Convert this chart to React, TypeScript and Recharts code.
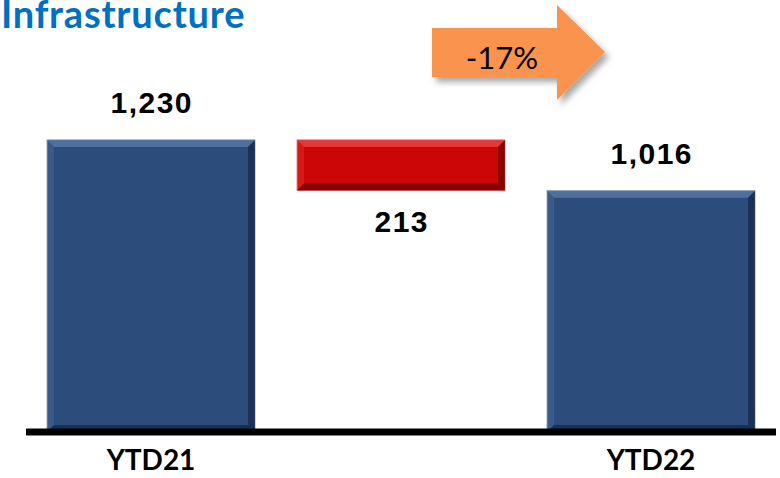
import React from "react";
import { BarChart, Bar, XAxis, YAxis, Cell, LabelList } from "recharts";

const categories = ["YTD21", "", "YTD22"];
const barLow = [0, 1017, 0];
const barHigh = [1230, 1230, 1016];
const barLabels = ["1,230", "213", "1,016"];
const barKinds = ["total", "drop", "total"];
const changeLabel = "-17%";

const data = categories.map((name, i) => ({
  name,
  range: [barLow[i], barHigh[i]],
  label: barLabels[i],
  kind: barKinds[i],
}));

const palette = {
  total: { main: "#2C4C7C", light: "#5676A6", dark: "#16284A", edge: "#A3A9B4" },
  drop: { main: "#CC0606", light: "#EA4040", dark: "#760000", edge: "#E58A8A" },
};

const BevelBar = (props: any) => {
  const { x, y, width, height, index } = props;
  if (height == null || width == null) return null;
  const c = palette[barKinds[index] as "total" | "drop"];
  const b = 7;
  return (
    <g>
      <rect x={x} y={y} width={width} height={height} fill={c.main} stroke={c.edge} strokeWidth={1} />
      <polygon points={`${x},${y} ${x + width},${y} ${x + width - b},${y + b} ${x + b},${y + b}`} fill={c.light} opacity={0.85} />
      <polygon points={`${x},${y} ${x + b},${y + b} ${x + b},${y + height - b} ${x},${y + height}`} fill={c.light} opacity={0.35} />
      <polygon points={`${x + width},${y} ${x + width},${y + height} ${x + width - b},${y + height - b} ${x + width - b},${y + b}`} fill={c.dark} opacity={0.75} />
      <polygon points={`${x},${y + height} ${x + width},${y + height} ${x + width - b},${y + height - b} ${x + b},${y + height - b}`} fill={c.dark} opacity={0.8} />
    </g>
  );
};

const ValueLabel = (props: any) => {
  const { x, y, width, height, index, value } = props;
  const below = barKinds[index] === "drop";
  const cy = below ? y + height + 31 : y - 37;
  return (
    <text
      x={x + width / 2 + 0.75}
      y={cy}
      textAnchor="middle"
      dominantBaseline="central"
      fontFamily="'Liberation Sans', Arial, sans-serif"
      fontWeight={700}
      fontSize={30}
      letterSpacing={1.5}
      fill="#000"
    >
      {value}
    </text>
  );
};

export default function App() {
  return (
    <div style={{ position: "relative", width: 780, height: 478, background: "#fff" }}>
      <style>{"body{margin:0}"}</style>
      <BarChart
        width={780}
        height={478}
        data={data}
        margin={{ top: 52, right: 4, left: 26, bottom: 0 }}
      >
        <YAxis hide domain={[0, 1600]} />
        <XAxis
          dataKey="name"
          height={46}
          axisLine={{ stroke: "#000", strokeWidth: 7 }}
          tickLine={false}
          tickSize={0}
          tickMargin={18}
          tick={{ fill: "#000", fontSize: 28, fontWeight: 700, fontFamily: "Lato" }}
        />
        <Bar dataKey="range" barSize={208} shape={BevelBar} isAnimationActive={false}>
          {data.map((d, i) => (
            <Cell key={i} fill={palette[d.kind as "total" | "drop"].main} />
          ))}
          <LabelList dataKey="label" content={ValueLabel} />
        </Bar>
      </BarChart>
      <svg
        width={780}
        height={478}
        style={{ position: "absolute", left: 0, top: 0, pointerEvents: "none" }}
      >
        <defs>
          <filter id="shadow" x="-20%" y="-20%" width="140%" height="150%">
            <feDropShadow dx={4} dy={5} stdDeviation={3} floodColor="#000" floodOpacity={0.35} />
          </filter>
        </defs>
        <text x={1} y={28} fontFamily="Lato" fontWeight={700} fontSize={38} letterSpacing={0.8} fill="#0070C0">
          Infrastructure
        </text>
        <polygon
          points="432,28 557,28 557,5 605,52 557,100 557,77 432,77"
          fill="#F9934E"
          filter="url(#shadow)"
        />
        <text
          x={502}
          y={57}
          textAnchor="middle"
          dominantBaseline="central"
          fontFamily="Lato"
          fontSize={31}
          fill="#000"
        >
          {changeLabel}
        </text>
      </svg>
    </div>
  );
}
